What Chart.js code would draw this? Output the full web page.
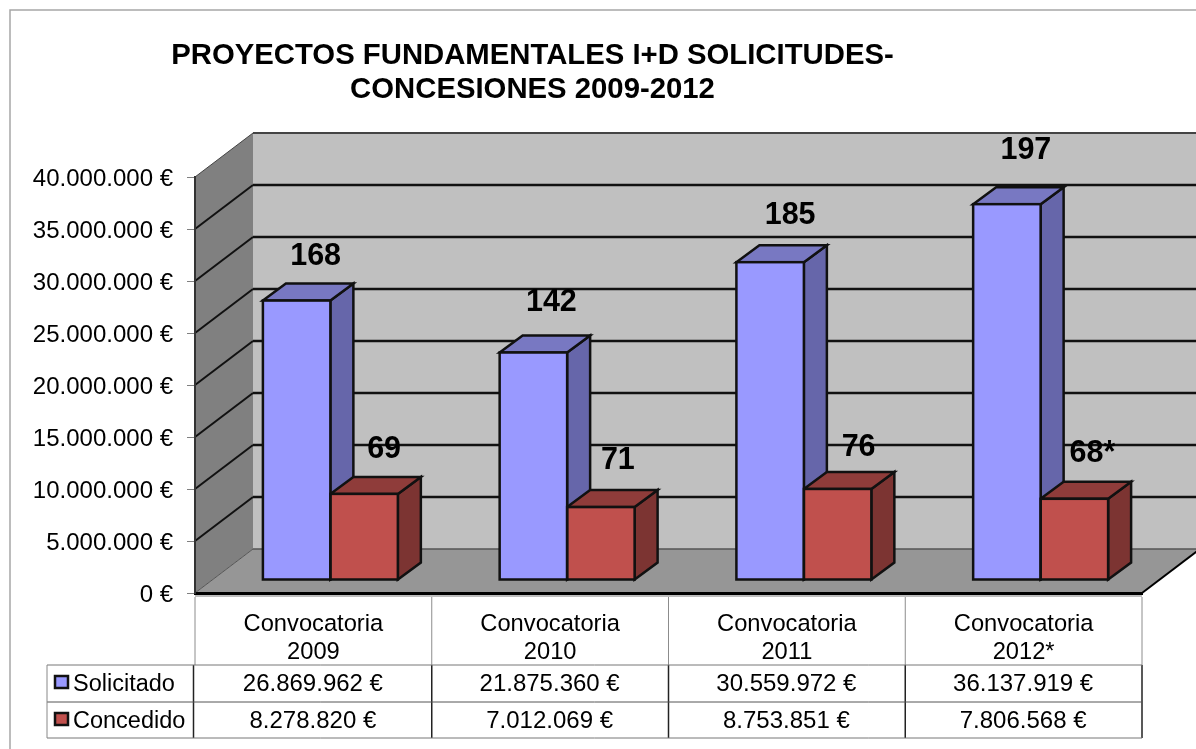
<!DOCTYPE html>
<html>
<head>
<meta charset="utf-8">
<style>
  html, body { margin: 0; padding: 0; background: #fff; overflow: hidden; }
  canvas { display: block; }
</style>
<script src="https://cdn.jsdelivr.net/npm/chart.js@4/dist/chart.umd.min.js"></script>
</head>
<body>
<canvas id="chart" width="1196" height="749"></canvas>
<script>
const titleLines = ['PROYECTOS FUNDAMENTALES I+D SOLICITUDES-', 'CONCESIONES 2009-2012'];
const categories = [['Convocatoria', '2009'], ['Convocatoria', '2010'], ['Convocatoria', '2011'], ['Convocatoria', '2012*']];
const seriesNames = ['Solicitado', 'Concedido'];
const solicitado = [26869962, 21875360, 30559972, 36137919];
const concedido = [8278820, 7012069, 8753851, 7806568];
const solicitadoLabels = ['168', '142', '185', '197'];
const concedidoLabels = ['69', '71', '76', '68*'];

const FONT = '"Liberation Sans", Arial, sans-serif';
const TEXT_SIZE = 24;
const WALL_DX = 58, WALL_DY = 44;   // depth of the 3d box
const BAR_DX = 23, BAR_DY = 17;     // depth of a bar
const BAR_SHIFT_X = 17, BAR_SHIFT_Y = 13;  // bars stand inside the floor
const BAR_LINE = 2.5;
const COLORS = [
  { front: '#9999ff', side: '#6666aa', top: '#7878c2' },
  { front: '#c0504d', side: '#7c3432', top: '#8f3c3a' },
];
// label position relative to the bar's centre and top, per bar
const LABEL_NUDGE = [
  [[19, -44], [18, -50], [20, -47], [19, -54]],
  [[20, -44], [17, -46], [21, -41], [18, -45]],
];

const euro = v => String(v).replace(/\B(?=(\d{3})+$)/g, '.') + ' €';

function poly(ctx, pts, fill, stroke, lw) {
  ctx.beginPath();
  pts.forEach((p, i) => i ? ctx.lineTo(p[0], p[1]) : ctx.moveTo(p[0], p[1]));
  ctx.closePath();
  if (fill) { ctx.fillStyle = fill; ctx.fill(); }
  if (stroke) { ctx.strokeStyle = stroke; ctx.lineWidth = lw || 1; ctx.stroke(); }
}

function line(ctx, x1, y1, x2, y2, color, lw) {
  ctx.beginPath();
  ctx.moveTo(x1, y1);
  ctx.lineTo(x2, y2);
  ctx.strokeStyle = color;
  ctx.lineWidth = lw;
  ctx.stroke();
}

// ── Frame, title and walls ────────────────────────────────────────────────────
const boxPlugin = {
  id: 'box',
  beforeDraw(chart) {
    const { ctx, scales: { x, y } } = chart;
    const l = x.left, r = x.right, b = y.bottom, t = y.top;
    ctx.save();
    ctx.fillStyle = '#fff';
    ctx.fillRect(0, 0, chart.width, chart.height);
    ctx.strokeStyle = '#a6a6a6';
    ctx.lineWidth = 1.5;
    ctx.strokeRect(10, 10, chart.width + 20, chart.height + 20);

    ctx.fillStyle = '#000';
    ctx.font = 'bold 29.3px ' + FONT;
    ctx.textAlign = 'center';
    ctx.textBaseline = 'alphabetic';
    titleLines.forEach((s, i) => ctx.fillText(s, 532.5, 64 + i * 33.5));

    poly(ctx, [[l + WALL_DX, t - WALL_DY], [r + WALL_DX, t - WALL_DY], [r + WALL_DX, b - WALL_DY], [l + WALL_DX, b - WALL_DY]], '#c0c0c0');
    poly(ctx, [[l, t], [l + WALL_DX, t - WALL_DY], [l + WALL_DX, b - WALL_DY], [l, b]], '#808080');
    poly(ctx, [[l, b], [r, b], [r + WALL_DX, b - WALL_DY], [l + WALL_DX, b - WALL_DY]], '#969696');

    y.ticks.forEach(tick => {
      const py = y.getPixelForValue(tick.value);
      if (tick.value === 0) {
        line(ctx, l, py, l + WALL_DX, py - WALL_DY, '#555', 1);
        line(ctx, l + WALL_DX, py - WALL_DY, r + WALL_DX, py - WALL_DY, '#555', 1.5);
        return;
      }
      const c = tick.value === y.max ? '#444' : '#111';
      const w = tick.value === y.max ? 2 : 2.5;
      line(ctx, l, py, l + WALL_DX, py - WALL_DY, c, tick.value === y.max ? 1 : 2);
      line(ctx, l + WALL_DX, py - WALL_DY, r + WALL_DX, py - WALL_DY, c, w);
    });
    line(ctx, r, b, r + WALL_DX, b - WALL_DY, '#000', 2);
    ctx.restore();
  },
};

// ── Bar depth: sides and tops first, Chart.js fills the fronts on top ─────────
const depthPlugin = {
  id: 'depth',
  beforeDatasetsDraw(chart) {
    const { ctx } = chart;
    ctx.save();
    ctx.translate(BAR_SHIFT_X, -BAR_SHIFT_Y);
    chart.data.datasets.forEach((ds, i) => {
      chart.getDatasetMeta(i).data.forEach(bar => {
        const x1 = bar.x - bar.width / 2, x2 = bar.x + bar.width / 2;
        poly(ctx, [[x2, bar.y], [x2 + BAR_DX, bar.y - BAR_DY], [x2 + BAR_DX, bar.base - BAR_DY], [x2, bar.base]], COLORS[i].side, '#111', BAR_LINE);
        poly(ctx, [[x1, bar.y], [x1 + BAR_DX, bar.y - BAR_DY], [x2 + BAR_DX, bar.y - BAR_DY], [x2, bar.y]], COLORS[i].top, '#111', BAR_LINE);
      });
    });
    // keeps the shift on for the fronts, undone in afterDatasetsDraw
  },
  afterDatasetsDraw(chart) {
    const { ctx } = chart;
    ctx.strokeStyle = '#111';
    ctx.lineWidth = BAR_LINE;
    chart.data.datasets.forEach((ds, i) => {
      chart.getDatasetMeta(i).data.forEach(bar => {
        ctx.strokeRect(bar.x - bar.width / 2, bar.y, bar.width, bar.base - bar.y);
      });
    });
    ctx.restore();
    ctx.save();
    ctx.fillStyle = '#000';
    ctx.font = 'bold 30.5px ' + FONT;
    ctx.textAlign = 'center';
    ctx.textBaseline = 'middle';
    [solicitadoLabels, concedidoLabels].forEach((labels, i) => {
      chart.getDatasetMeta(i).data.forEach((bar, j) => {
        const n = LABEL_NUDGE[i][j];
        ctx.fillText(labels[j], bar.x + BAR_SHIFT_X + n[0], bar.y - BAR_SHIFT_Y + n[1]);
      });
    });
    ctx.restore();
  },
};

// ── Data table under the axis ─────────────────────────────────────────────────
const tablePlugin = {
  id: 'table',
  afterDraw(chart) {
    const { ctx, scales: { x, y } } = chart;
    const rows = [665, 702, 738], tableLeft = 47, headRight = 193.5;
    const edges = categories.map((_, i) => x.getPixelForValue(i) - (x.getPixelForValue(1) - x.getPixelForValue(0)) / 2);
    edges.push(x.right);
    ctx.save();
    line(ctx, x.left, y.bottom + 3, x.right, y.bottom + 3, '#bdbdbd', 2);
    edges.forEach((ex, i) => {
      line(ctx, ex, y.bottom + 4, ex, rows[0], '#8c8c8c', 1);
      line(ctx, i === 0 ? headRight : ex, rows[0], i === 0 ? headRight : ex, rows[2], '#222', 1.5);
    });
    line(ctx, tableLeft, rows[0], x.right, rows[0], '#777', 1);
    line(ctx, tableLeft, rows[1], x.right, rows[1], '#555', 1);
    line(ctx, tableLeft, rows[2], x.right, rows[2], '#777', 1);
    line(ctx, tableLeft, rows[0], tableLeft, rows[2], '#888', 1);

    ctx.textBaseline = 'alphabetic';
    ctx.fillStyle = '#000';
    [solicitado, concedido].forEach((values, i) => {
      const base = rows[i] + 26;
      poly(ctx, [[55, rows[i] + 11], [68, rows[i] + 11], [68, rows[i] + 23], [55, rows[i] + 23]], COLORS[i].front, '#111', 2.5);
      ctx.fillStyle = '#000';
      ctx.font = '23.5px ' + FONT;
      ctx.textAlign = 'left';
      ctx.fillText(seriesNames[i], 73, base);
      ctx.font = TEXT_SIZE + 'px ' + FONT;
      ctx.textAlign = 'center';
      values.forEach((v, j) => ctx.fillText(euro(v), x.getPixelForValue(j) - 0.5, base));
    });
    ctx.restore();
  },
};

new Chart(document.getElementById('chart'), {
  type: 'bar',
  data: {
    labels: categories,
    datasets: [
      { label: seriesNames[0], data: solicitado, backgroundColor: COLORS[0].front, borderWidth: 0, clip: false },
      { label: seriesNames[1], data: concedido, backgroundColor: COLORS[1].front, borderWidth: 0, clip: false },
    ],
  },
  options: {
    responsive: false,
    animation: false,
    categoryPercentage: 0.57,
    barPercentage: 1,
    layout: { padding: { top: 177, right: 54, left: 0, bottom: 0 } },
    plugins: { legend: { display: false }, title: { display: false }, tooltip: { enabled: false } },
    scales: {
      x: {
        grid: { display: false },
        border: { display: true, color: '#000', width: 3 },
        ticks: { color: '#000', padding: 10, maxRotation: 0, font: { family: FONT, size: 23.7, lineHeight: 1.16 } },
        afterFit(scale) { scale.height = 156; },
      },
      y: {
        min: 0,
        max: 40000000,
        grid: { drawOnChartArea: false, color: '#808080', tickLength: 8, tickWidth: 1 },
        border: { display: true, color: '#333', width: 2 },
        ticks: { stepSize: 5000000, color: '#000', padding: 14, labelOffset: 2, font: { family: FONT, size: TEXT_SIZE }, callback: v => euro(v) },
        afterFit(scale) { scale.width = 195; },
      },
    },
  },
  plugins: [boxPlugin, depthPlugin, tablePlugin],
});
</script>
</body>
</html>
